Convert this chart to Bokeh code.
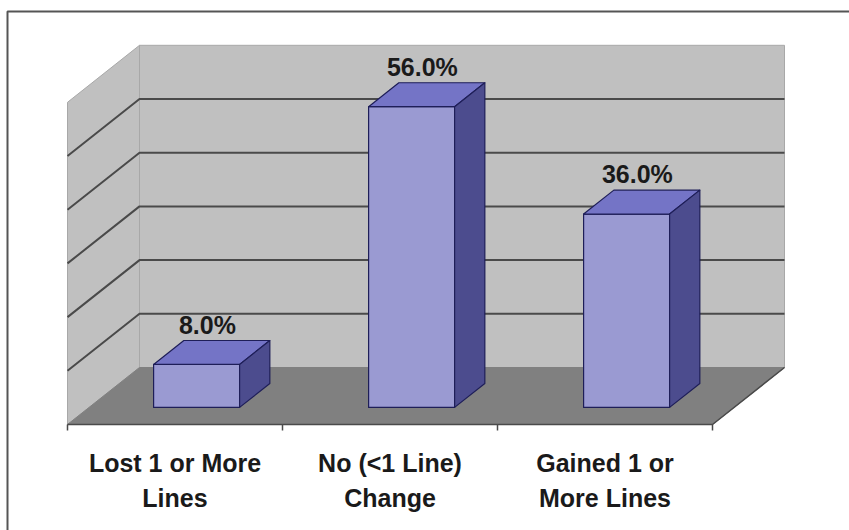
from bokeh.plotting import figure
from bokeh.models import Range1d
from bokeh.core.properties import value
from bokeh.embed import file_html
from bokeh.resources import INLINE

# Data
categories = ["Lost 1 or More Lines", "No (<1 Line) Change", "Gained 1 or More Lines"]
label_line1 = ["Lost 1 or More", "No (<1 Line)", "Gained 1 or"]
label_line2 = ["Lines", "Change", "More Lines"]
percent = [8.0, 56.0, 36.0]
y_ticks = [0, 10, 20, 30, 40, 50, 60]

# Layout of the oblique 3D projection
W, H = 849, 530
PX_CAT = 215.0          # pixels per category slot
PX_PCT = 5.37           # pixels per percent
ORIGIN_X, ORIGIN_Y = 67.0, 424.0   # front-left floor corner (pixels from top-left)
DEPTH_PX_X, DEPTH_PX_Y = 72.0, 57.0
DX = DEPTH_PX_X / PX_CAT
DY = DEPTH_PX_Y / PX_PCT
BAR_D0, BAR_D1 = 0.30, 0.72
BAR_HALF = 0.20
N = len(categories)
Y_MAX = y_ticks[-1]


def proj(x, v, d):
    return x + d * DX, v + d * DY


def px_x(px):
    return (px - ORIGIN_X) / PX_CAT


def px_y(py):
    return (ORIGIN_Y - py) / PX_PCT


p = figure(width=W, height=H, output_backend="svg", toolbar_location=None,
           x_axis_type=None, y_axis_type=None,
           x_range=Range1d(px_x(0), px_x(W)), y_range=Range1d(px_y(H), px_y(0)),
           min_border=0, outline_line_color=None,
           background_fill_color="white", border_fill_color="white")
p.grid.visible = False

# Outer frame (left and top edges)
p.line([px_x(7), px_x(7), px_x(W + 5)], [px_y(H + 5), px_y(11), px_y(11)],
       line_color="#555555", line_width=2)

WALL = "#c0c0c0"
WALL_EDGE = "#a8a8a8"

# Back wall
bx = [proj(0, 0, 1)[0], proj(N, 0, 1)[0], proj(N, Y_MAX, 1)[0], proj(0, Y_MAX, 1)[0]]
by = [proj(0, 0, 1)[1], proj(N, 0, 1)[1], proj(N, Y_MAX, 1)[1], proj(0, Y_MAX, 1)[1]]
p.patch(bx, by, fill_color=WALL, line_color=WALL_EDGE, line_width=1)

# Side wall
sx = [proj(0, 0, 0)[0], proj(0, 0, 1)[0], proj(0, Y_MAX, 1)[0], proj(0, Y_MAX, 0)[0]]
sy = [proj(0, 0, 0)[1], proj(0, 0, 1)[1], proj(0, Y_MAX, 1)[1], proj(0, Y_MAX, 0)[1]]
p.patch(sx, sy, fill_color=WALL, line_color=WALL_EDGE, line_width=1)

# Floor
fx = [proj(0, 0, 0)[0], proj(N, 0, 0)[0], proj(N, 0, 1)[0], proj(0, 0, 1)[0]]
fy = [proj(0, 0, 0)[1], proj(N, 0, 0)[1], proj(N, 0, 1)[1], proj(0, 0, 1)[1]]
p.patch(fx, fy, fill_color="#808080", line_color="#808080", line_width=1)
p.line([proj(0, 0, 0)[0], proj(N, 0, 0)[0], proj(N, 0, 1)[0]],
       [proj(0, 0, 0)[1], proj(N, 0, 0)[1], proj(N, 0, 1)[1]],
       line_color="#4a4a4a", line_width=1.5)

# Gridlines on side and back walls
gx, gy = [], []
for t in y_ticks[1:-1]:
    a, b, c = proj(0, t, 0), proj(0, t, 1), proj(N, t, 1)
    gx.append([a[0], b[0], c[0]])
    gy.append([a[1], b[1], c[1]])
p.multi_line(gx, gy, line_color="#4a4a4a", line_width=2)

# Category ticks below the front floor edge
tick_len = 6 / PX_PCT
p.segment(x0=list(range(N + 1)), y0=[0] * (N + 1), x1=list(range(N + 1)),
          y1=[-tick_len] * (N + 1), line_color="#4a4a4a", line_width=1.5)

# Bars
FRONT, TOP, SIDE, EDGE = "#9a9ad2", "#7474c6", "#4c4c8e", "#1e1e58"
for i, v in enumerate(percent):
    c = i + 0.5
    x0, x1 = c - BAR_HALF, c + BAR_HALF
    f = [proj(x0, 0, BAR_D0), proj(x1, 0, BAR_D0), proj(x1, v, BAR_D0), proj(x0, v, BAR_D0)]
    t = [proj(x0, v, BAR_D0), proj(x1, v, BAR_D0), proj(x1, v, BAR_D1), proj(x0, v, BAR_D1)]
    s = [proj(x1, 0, BAR_D0), proj(x1, 0, BAR_D1), proj(x1, v, BAR_D1), proj(x1, v, BAR_D0)]
    for pts, col in ((f, FRONT), (t, TOP), (s, SIDE)):
        p.patch([q[0] for q in pts], [q[1] for q in pts], fill_color=col,
                line_color=EDGE, line_width=1.2, line_join="round")

# Value labels above each bar
lab_x = [proj(i + 0.5, 0, 0.45)[0] for i in range(N)]
lab_y = [proj(i + 0.5, v, BAR_D1)[1] + 16 / PX_PCT for i, v in enumerate(percent)]
p.text(x=lab_x, y=lab_y, text=[f"{v:.1f}%" for v in percent],
       text_font=value("Liberation Sans"), text_font_style="bold",
       text_font_size="25px", text_color="#1a1a1a",
       text_align="center", text_baseline="alphabetic")

# Category labels
cx = [i + 0.5 for i in range(N)]
p.text(x=cx, y=[px_y(462)] * N, text=label_line1,
       text_font=value("Liberation Sans"), text_font_style="bold",
       text_font_size="25px", text_color="#1a1a1a",
       text_align="center", text_baseline="alphabetic")
p.text(x=cx, y=[px_y(497)] * N, text=label_line2,
       text_font=value("Liberation Sans"), text_font_style="bold",
       text_font_size="25px", text_color="#1a1a1a",
       text_align="center", text_baseline="alphabetic")

open("out.html", "w").write(file_html(p, INLINE))
